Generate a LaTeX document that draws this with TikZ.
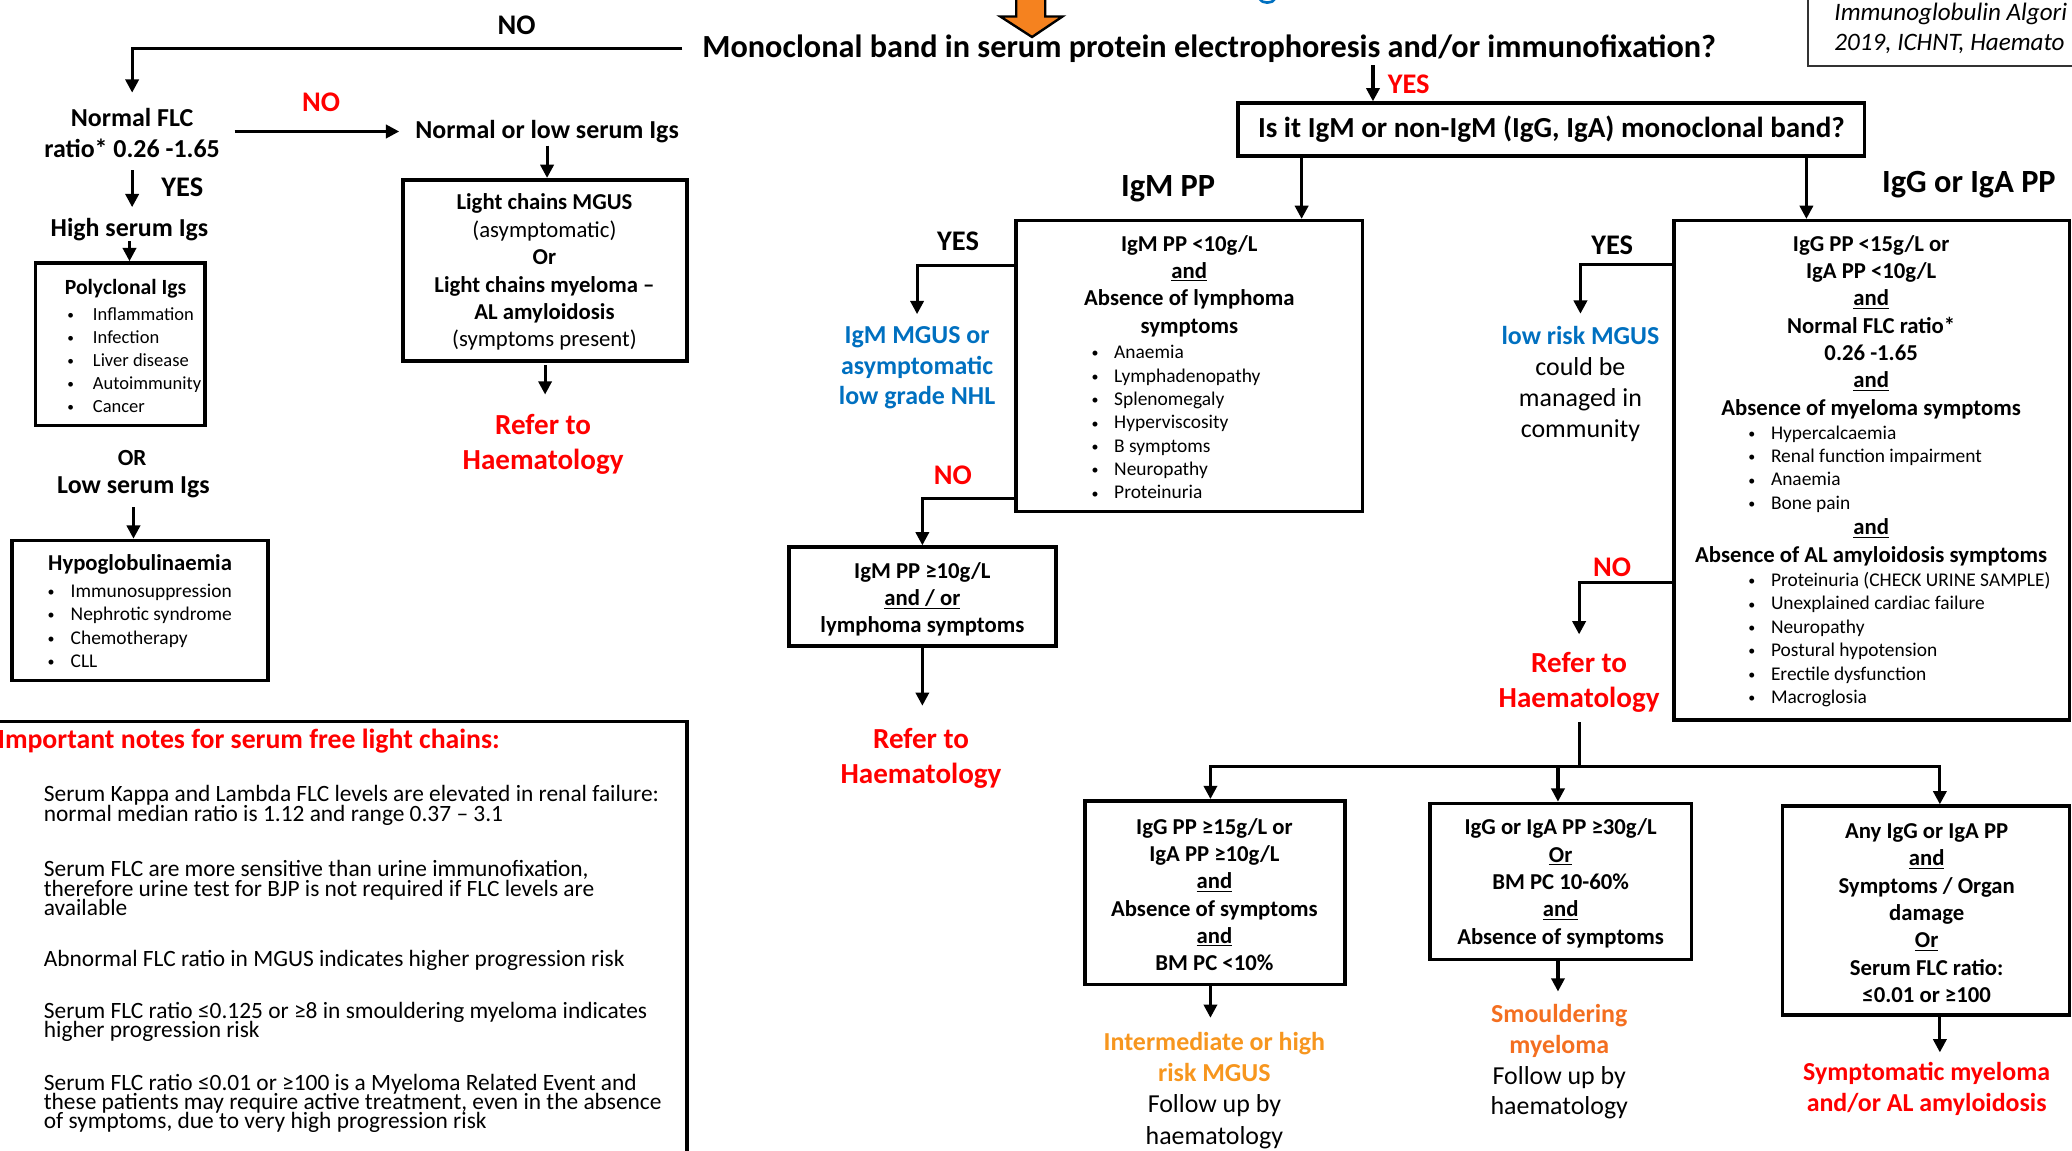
\documentclass[tikz,border=0pt]{standalone}
\usepackage{fontspec}
\usepackage{graphicx}
\setmainfont{Carlito}
\usetikzlibrary{arrows.meta,calc}
\definecolor{myred}{HTML}{FF0000}
\definecolor{myblue}{HTML}{0070C0}
\definecolor{myorange}{HTML}{F7961E}
\definecolor{myorangeb}{HTML}{F46F20}
\definecolor{arroworange}{HTML}{F5821F}
\newcommand{\fsz}[2]{\fontsize{#1pt}{#2pt}\selectfont}
\newcommand{\bul}[1][18pt]{\makebox[#1][l]{\hspace{0.8pt}\raisebox{0.6pt}{\scalebox{0.72}{\textbullet}}}}
\newcommand{\nf}{\fsz{17.7}{14.6}\lineskiplimit=-30pt\lineskip=0pt\relax}
\begin{document}
\begin{tikzpicture}[x=1pt,y=-1pt,
  txt/.style={inner sep=0pt, align=center, yshift=-1.5pt},
  box/.style={draw, line width=2.7pt, inner sep=0pt},
  ln/.style={line width=2.3pt},
  conn/.style={ln, -{Triangle[length=10pt,width=10pt]}},
  hd/.style={txt, font=\fsz{17.2}{20.7}\bfseries},
  bl/.style={inner sep=0pt, align=left, anchor=west, yshift=-1.5pt, font=\fsz{14.7}{17.7}},
  lab/.style={inner sep=0pt, yshift=-1.5pt, font=\fsz{21.5}{26}\bfseries},
  big/.style={txt, font=\fsz{19.6}{23.5}\bfseries},
  refer/.style={txt, text=myred, font=\fsz{22}{26.5}\bfseries},
  note/.style={anchor=west, inner sep=0pt, align=left, yshift=-1.5pt, font=\nf},
]
\fill[white] (0,0) rectangle (1568,871);
\useasboundingbox (0,0) rectangle (1568,871);

% ---------- top ----------
\node[txt, font=\fsz{24.4}{29}\bfseries] (title) at (915,35) {Monoclonal band in serum protein electrophoresis and/or immunofixation?};
\filldraw[fill=arroworange, draw=black, line width=1.8pt, line join=miter]
  (769,-3) -- (791,-3) -- (791,12.5) -- (804,12.5) -- (781,28) -- (757,12.5) -- (769,12.5) -- cycle;
\draw[myblue, line width=2pt] (953,-1) .. controls (955,3) and (963,3) .. (965,-1);
\draw[line width=1.2pt, draw=black!80] (1368,-5) -- (1368,50) -- (1575,50);
\node[anchor=west, inner sep=0pt, align=left, font=\fsz{19}{23}\itshape] (ref) at (1388,21.5) {Immunoglobulin Algori\\2019, ICHNT, Haemato};

\node[lab] (no0) at (391,18) {NO};

% ---------- left column ----------
\node[big] (flc) at (100,99.5) {Normal FLC\\ratio* 0.26 -1.65};
\draw[conn, shorten <=15pt, shorten >=12pt] (title.west) -| (flc.north);
\node[big] (nl) at (414,98) {Normal or low serum Igs};
\node[lab, text=myred] (no1) at (243,76) {NO};
\draw[conn, shorten <=11pt, shorten >=12pt] (flc.east |- nl.west) -- (nl.west);

\node[big] (high) at (98,172) {High serum Igs};
\node[lab] (yes1) at (138,140) {YES};
\draw[conn, shorten <=9pt, shorten >=8pt] (flc.south) -- (flc.south |- high.north);

\node[box, minimum width=128pt, minimum height=123pt] (poly) at (91,260.5) {};
\draw[conn] (high.south) -- (high.south |- poly.north);
\node[txt, font=\fsz{16.4}{20}\bfseries] (polyh) at (95,217) {Polyclonal Igs};
\node[bl, font=\fsz{14}{17.5}] (polyl) at (50,271) {\bul[17pt] Inflammation\\\bul[17pt] Infection\\\bul[17pt] Liver disease\\\bul[17pt] Autoimmunity\\\bul[17pt] Cancer};

\node[txt, font=\fsz{17.5}{21}\bfseries] (or) at (100,345) {OR};
\node[big] (low) at (101,367) {Low serum Igs};
\node[box, minimum width=194pt, minimum height=106pt] (hypo) at (106,462) {};
\draw[conn, shorten <=7pt] (low.south) -- (low.south |- hypo.north);
\node[hd] (hypoh) at (106,426) {Hypoglobulinaemia};
\node[bl] (hypol) at (35,472) {\bul[15pt] Immunosuppression\\\bul[15pt] Nephrotic syndrome\\\bul[15pt] Chemotherapy\\\bul[15pt] CLL};

\node[box, minimum width=215pt, minimum height=137pt] (lc) at (412.5,204.5) {};
\draw[conn, shorten <=2pt] (nl.south) -- (nl.south |- lc.north);
\node[txt, font=\fsz{17.2}{20.7}] (lct) at (412,204.5) {\textbf{Light chains MGUS}\\(asymptomatic)\\\textbf{Or}\\\textbf{Light chains myeloma –}\\\textbf{AL amyloidosis}\\(symptoms present)};
\node[refer] (refer1) at (411,335) {Refer to\\Haematology};
\draw[conn, shorten <=2pt, shorten >=15pt] (lc.south) -- (lc.south |- refer1.north);

% ---------- notes ----------
\node[box, minimum width=530pt, minimum height=340pt] (notes) at (255,716) {};
\node[anchor=west, inner sep=0pt, yshift=-1.5pt, text=myred, font=\fsz{21}{25}\bfseries] (notesh) at (-2,559) {Important notes for serum free light chains:};
\node[note] (n1) at (33,608) {Serum Kappa and Lambda FLC levels are elevated in renal failure:\\normal median ratio is 1.12 and range 0.37 – 3.1};
\node[note] (n2) at (33,670.5) {Serum FLC are more sensitive than urine immunofixation,\\therefore urine test for BJP is not required if FLC levels are\\available};
\node[note] (n3) at (33,725) {Abnormal FLC ratio in MGUS indicates higher progression risk};
\node[note] (n4) at (33,772) {Serum FLC ratio ≤0.125 or ≥8 in smouldering myeloma indicates\\higher progression risk};
\node[note] (n5) at (33,833.5) {Serum FLC ratio ≤0.01 or ≥100 is a Myeloma Related Event and\\these patients may require active treatment, even in the absence\\of symptoms, due to very high progression risk};

% ---------- question ----------
\node[box, minimum width=474pt, minimum height=40pt, font=\fsz{22}{26}\bfseries] (q) at (1174,98) {Is it IgM or non-IgM (IgG, IgA) monoclonal band?};
\coordinate (xq) at (1039,0);
\coordinate (xm) at (985,0);
\coordinate (xg) at (1367,0);
\draw[conn, shorten <=2pt] (title.south -| xq) -- (q.north -| xq);
\node[lab, text=myred] (yes0) at (1066,62) {YES};

\node[box, minimum width=262pt, minimum height=220pt] (igm) at (900,277) {};
\node[box, minimum width=299pt, minimum height=378pt] (igg) at (1416.5,356) {};
\draw[conn] (q.south -| xm) -- (igm.north -| xm);
\draw[conn] (q.south -| xg) -- (igg.north -| xg);
\node[txt, font=\fsz{24.5}{30}\bfseries] (igmlab) at (884,141) {IgM PP};
\node[txt, font=\fsz{24.5}{30}\bfseries] (igglab) at (1490,138) {IgG or IgA PP};

% ---------- IgM branch ----------
\node[hd] (igmh) at (900,215) {IgM PP <10g/L\\\underline{and}\\Absence of lymphoma\\symptoms};
\node[bl] (igml) at (825,318) {\bul Anaemia\\\bul Lymphadenopathy\\\bul Splenomegaly\\\bul Hyperviscosity\\\bul B symptoms\\\bul Neuropathy\\\bul Proteinuria};

\node[txt, text=myblue, font=\fsz{19.6}{23}\bfseries] (mgus) at (694,277) {IgM MGUS or\\asymptomatic\\low grade NHL};
\coordinate (yy1) at (0,201);
\draw[conn, shorten >=9.5pt] (igm.west |- yy1) -| (mgus.north);
\node[lab] (yes2) at (725,181) {YES};

\node[box, minimum width=202pt, minimum height=75pt] (igm2) at (698,451.5) {};
\node[hd] (igm2t) at (698,452) {IgM PP ≥10g/L\\\underline{and / or}\\lymphoma symptoms};
\coordinate (yy2) at (0,377);
\draw[conn] (igm.west |- yy2) -| (igm2.north);
\node[lab, text=myred] (no2) at (721,358) {NO};
\node[refer] (refer2) at (697,572.5) {Refer to\\Haematology};
\draw[conn, shorten >=17pt] (igm2.south) -- (igm2.south |- refer2.north);

% ---------- IgG branch ----------
\node[hd] (iggh1) at (1416,246) {IgG PP <15g/L or\\IgA PP <10g/L\\\underline{and}\\Normal FLC ratio*\\0.26 -1.65\\\underline{and}\\Absence of myeloma symptoms};
\node[bl] (iggl1) at (1322,353.5) {\bul Hypercalcaemia\\\bul Renal function impairment\\\bul Anaemia\\\bul Bone pain};
\node[hd] (iggh2) at (1416,409) {\underline{and}\\Absence of AL amyloidosis symptoms};
\node[bl] (iggl2) at (1322,482.5) {\bul Proteinuria (CHECK URINE SAMPLE)\\\bul Unexplained cardiac failure\\\bul Neuropathy\\\bul Postural hypotension\\\bul Erectile dysfunction\\\bul Macroglosia};

\node[txt, font=\fsz{19.6}{23.3}] (lowrisk) at (1196,289) {\textcolor{myblue}{\bfseries low risk MGUS}\\could be\\managed in\\community};
\coordinate (yy3) at (0,200);
\draw[conn, shorten >=9.5pt] (igg.west |- yy3) -| (lowrisk.north);
\node[lab] (yes3) at (1220,184) {YES};

\node[refer] (refer3) at (1195,515) {Refer to\\Haematology};
\coordinate (yy4) at (0,441);
\draw[conn, shorten >=13.5pt] (igg.west |- yy4) -| (refer3.north);
\node[lab, text=myred] (no3) at (1220,428) {NO};

% ---------- bottom ----------
\coordinate (ax1) at (916,580);
\coordinate (ax2) at (1179,580);
\coordinate (ax3) at (1468,580);
\node[box, minimum width=197pt, minimum height=139pt] (b1) at (919.5,675.5) {};
\node[box, minimum width=198pt, minimum height=118pt] (b2) at (1181,667) {};
\node[box, minimum width=217pt, minimum height=158pt] (b3) at (1457.5,689) {};
\draw[ln, shorten <=7pt] (refer3.south) -- (refer3.south |- ax1);
\draw[ln, line cap=rect] (ax1) -- (ax3);
\draw[conn] (ax1) -- (ax1 |- b1.north);
\draw[conn] (ax2) -- (ax2 |- b2.north);
\draw[conn] (ax3) -- (ax3 |- b3.north);

\node[hd] (b1t) at (919,675.5) {IgG PP ≥15g/L or\\IgA PP ≥10g/L\\\underline{and}\\Absence of symptoms\\\underline{and}\\BM PC <10\%};
\node[hd] (b2t) at (1181,667) {IgG or IgA PP ≥30g/L\\\underline{Or}\\BM PC 10-60\%\\\underline{and}\\Absence of symptoms};
\node[hd] (b3t) at (1458,689.5) {Any IgG or IgA PP\\\underline{and}\\Symptoms / Organ\\damage\\\underline{Or}\\Serum FLC ratio:\\≤0.01 or ≥100};

\node[txt, font=\fsz{19.6}{23.7}] (out1) at (919,823.5) {\textcolor{myorange}{\bfseries Intermediate or high}\\\textcolor{myorange}{\bfseries risk MGUS}\\Follow up by\\haematology};
\node[txt, font=\fsz{19.6}{23.3}] (out2) at (1180,802) {\textcolor{myorangeb}{\bfseries Smouldering}\\\textcolor{myorangeb}{\bfseries myeloma}\\Follow up by\\haematology};
\node[txt, text=myred, font=\fsz{19.6}{23}\bfseries] (out3) at (1458,822.5) {Symptomatic myeloma\\and/or AL amyloidosis};
\draw[conn, shorten >=10.5pt] (ax1 |- b1.south) -- (ax1 |- out1.north);
\draw[conn, shorten >=9.5pt] (ax2 |- b2.south) -- (ax2 |- out2.north);
\draw[conn, shorten >=7.5pt] (ax3 |- b3.south) -- (ax3 |- out3.north);
\end{tikzpicture}
\end{document}
